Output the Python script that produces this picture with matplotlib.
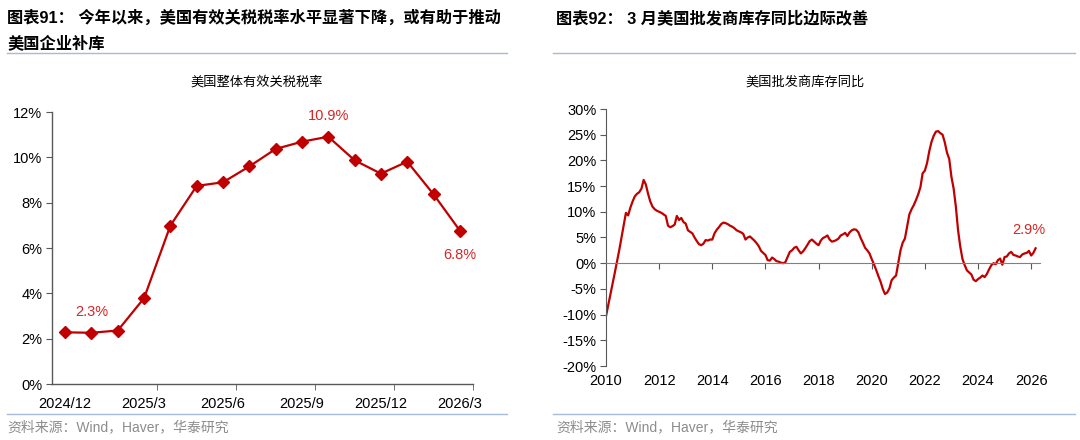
import numpy as np
import matplotlib.pyplot as plt
from matplotlib.ticker import FixedLocator, FuncFormatter

plt.rcParams['font.family'] = ['Liberation Sans', 'Noto Sans CJK SC', 'DejaVu Sans']

# 左图：美国整体有效关税税率（%）
months_l = ['2024/12', '2025/1', '2025/2', '2025/3', '2025/4', '2025/5', '2025/6', '2025/7',
            '2025/8', '2025/9', '2025/10', '2025/11', '2025/12', '2026/1', '2026/2', '2026/3']
tariff = [2.28, 2.26, 2.36, 3.79, 6.99, 8.74, 8.9, 9.6, 10.37, 10.69, 10.91, 9.87, 9.28, 9.81, 8.37, 6.77]
label_idx_l = [0, 3, 6, 9, 12, 15]

# 右图：美国批发商库存同比（%），2010/1 - 2026/3 月度
inv_yoy = [
    -10.3, -8.2, -6.0, -4.0, -1.8, 0.4, 2.6, 5.0, 7.5, 9.8, 9.3, 10.8,    # 2010
    12.0, 13.0, 13.5, 13.8, 14.5, 16.2, 15.3, 13.5, 12.0, 11.0, 10.5, 10.2,  # 2011
    10.0, 9.8, 9.5, 9.2, 7.3, 7.0, 7.2, 7.5, 9.2, 8.4, 8.8, 8.0,          # 2012
    7.7, 6.4, 6.1, 5.8, 5.0, 4.3, 3.7, 3.5, 3.8, 4.5, 4.4, 4.6,           # 2013
    4.6, 5.8, 6.5, 7.0, 7.6, 7.9, 7.8, 7.6, 7.3, 7.1, 6.8, 6.4,           # 2014
    6.2, 6.0, 5.7, 4.6, 5.0, 5.2, 4.8, 4.4, 3.9, 3.3, 2.4, 2.0,           # 2015
    1.6, 0.6, 0.5, 1.1, 0.8, 0.4, 0.3, 0.1, 0.0, 0.2, 1.2, 2.2,           # 2016
    2.5, 3.0, 3.2, 2.5, 1.9, 2.3, 2.9, 3.6, 4.3, 4.6, 4.2, 3.8,           # 2017
    3.5, 4.4, 4.9, 5.1, 5.4, 4.6, 4.2, 4.3, 4.5, 4.8, 5.4, 5.6,           # 2018
    5.9, 5.3, 6.0, 6.4, 6.6, 6.5, 6.0, 4.9, 4.0, 3.0, 2.5, 1.9,           # 2019
    0.8, -0.2, -1.3, -2.5, -3.6, -5.0, -6.0, -5.7, -4.9, -3.3, -2.8, -2.4,  # 2020
    0.0, 2.5, 4.0, 4.8, 7.2, 9.5, 10.5, 11.3, 12.3, 13.4, 14.8, 17.5,     # 2021
    18.0, 19.5, 21.8, 23.6, 24.8, 25.6, 25.7, 25.3, 25.0, 23.5, 21.5, 20.3,  # 2022
    16.8, 14.5, 11.0, 6.4, 3.2, 0.8, -0.4, -1.4, -1.8, -2.2, -3.2, -3.5,   # 2023
    -3.1, -2.8, -2.4, -2.7, -2.1, -1.2, -0.4, 0.0, -0.2, 0.6, 0.9, -0.3,  # 2024
    1.2, 1.3, 1.9, 2.2, 1.6, 1.5, 1.3, 1.2, 1.7, 1.9, 2.0, 2.4,           # 2025
    1.5, 2.0, 2.9,                                                       # 2026
]
start_year = 2010
year_ticks = [2010, 2012, 2014, 2016, 2018, 2020, 2022, 2024, 2026]

line_red = '#C00000'
text_red = '#D92525'
axis_gray = '#595959'
sep_blue = '#A8BBD6'

fig = plt.figure(figsize=(10.8, 4.4), dpi=100)

def pct(v, pos):
    return f'{v:.0f}%'

# ---------- 左图 ----------
ax1 = fig.add_axes([52 / 1080, 1 - 384 / 440, 421 / 1080, 272 / 440])
x1 = np.arange(len(tariff))
ax1.plot(x1, tariff, color=line_red, lw=1.6, marker='D', ms=6, mec=line_red, mfc=line_red)
ax1.set_xlim(-0.5, len(tariff) - 0.5)
ax1.set_ylim(0, 12)
ax1.set_yticks(np.arange(0, 13, 2))
ax1.yaxis.set_major_formatter(FuncFormatter(pct))
ax1.set_xticks(label_idx_l)
ax1.set_xticklabels([months_l[i] for i in label_idx_l])
ax1.xaxis.set_minor_locator(FixedLocator([i + 0.5 for i in label_idx_l[1:]]))
ax1.tick_params(axis='x', which='major', length=0, pad=9, labelsize=10.5, colors='black')
ax1.tick_params(axis='x', which='minor', length=4, direction='out', color=axis_gray)
ax1.tick_params(axis='y', length=4, direction='out', color=axis_gray, labelsize=10.5, pad=3)
for s in ['top', 'right']:
    ax1.spines[s].set_visible(False)
for s in ['left', 'bottom']:
    ax1.spines[s].set_color(axis_gray)
    ax1.spines[s].set_linewidth(1.0)

for i, dy in [(1, 0.9), (10, 0.9), (15, -1.1)]:
    ax1.text(x1[i], tariff[i] + dy, f'{tariff[i]:.1f}%', color=text_red, fontsize=10.5,
             ha='center', va='center')

# ---------- 右图 ----------
ax2 = fig.add_axes([606 / 1080, 1 - 366 / 440, 434 / 1080, 257 / 440])
t2 = start_year + np.arange(len(inv_yoy)) / 12
ax2.plot(t2, inv_yoy, color=line_red, lw=1.6)
ax2.set_xlim(start_year, start_year + (len(inv_yoy) + 1) / 12)
ax2.set_ylim(-20, 30)
ax2.set_yticks(np.arange(-20, 31, 5))
ax2.yaxis.set_major_formatter(FuncFormatter(pct))
ax2.tick_params(axis='y', length=4, direction='out', color=axis_gray, labelsize=10.5, pad=3)
ax2.spines['bottom'].set_position(('data', 0))
ax2.spines['bottom'].set_color('#808080')
ax2.spines['left'].set_color(axis_gray)
for s in ['top', 'right']:
    ax2.spines[s].set_visible(False)
ax2.set_xticks(year_ticks[1:])
ax2.tick_params(axis='x', length=4, direction='out', color=axis_gray, labelbottom=False)

sec = ax2.secondary_xaxis('bottom')
sec.set_xticks(year_ticks)
sec.set_xticklabels([str(y) for y in year_ticks])
sec.tick_params(axis='x', length=0, pad=6, labelsize=10.5)
sec.spines['bottom'].set_visible(False)

ax2.text(t2[-1] - 0.25, inv_yoy[-1] + 3.5, f'{inv_yoy[-1]:.1f}%', color=text_red,
         fontsize=10.5, ha='center', va='center')

# ---------- 标题、分隔线、来源 ----------
hdr = dict(fontsize=11.7, fontweight='bold', ha='left', va='center')
fig.text(7 / 1080, 1 - 18 / 440, '图表91： 今年以来，美国有效关税税率水平显著下降，或有助于推动', **hdr)
fig.text(7 / 1080, 1 - 43 / 440, '美国企业补库', **hdr)
fig.text(556 / 1080, 1 - 18 / 440, '图表92： 3 月美国批发商库存同比边际改善', **hdr)

fig.text(257 / 1080, 1 - 82 / 440, '美国整体有效关税税率', fontsize=9.5, ha='center', va='center',
         family=['Noto Sans CJK SC'])
fig.text(805 / 1080, 1 - 82 / 440, '美国批发商库存同比', fontsize=9.5, ha='center', va='center',
         family=['Noto Sans CJK SC'])

for xa, xb in [(7, 507), (553, 1075)]:
    for yy in [53, 414]:
        fig.add_artist(plt.Line2D([xa / 1080, xb / 1080], [1 - yy / 440, 1 - yy / 440],
                                  color=sep_blue, lw=1.0))

src = dict(fontsize=10, color='#8C8C8C', ha='left', va='center')
fig.text(7 / 1080, 1 - 427 / 440, '资料来源：Wind，Haver，华泰研究', **src)
fig.text(556 / 1080, 1 - 427 / 440, '资料来源：Wind，Haver，华泰研究', **src)

fig.savefig('out.png', dpi=100)
